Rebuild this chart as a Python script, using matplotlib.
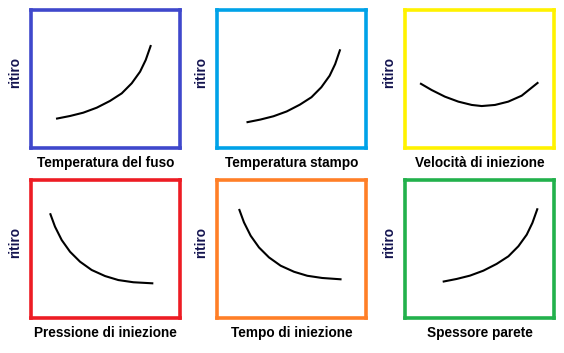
import matplotlib
matplotlib.use("Agg")
import matplotlib.pyplot as plt

plt.rcParams['font.family'] = ['Liberation Sans', 'DejaVu Sans']

titles = ["Temperatura del fuso", "Temperatura stampo", "Velocità di iniezione",
          "Pressione di iniezione", "Tempo di iniezione", "Spessore parete"]
ylabel = "ritiro"
frame_colors = ["#3f48cc", "#00a2e8", "#fff200", "#ed1c24", "#ff7f27", "#22b14c"]

curve_x = [
    [16.8, 26.2, 35.1, 44.1, 53.0, 60.9, 67.6, 73.2, 77.0, 80.5],
    [19.8, 29.1, 37.9, 46.8, 55.6, 63.4, 70.0, 75.6, 79.3, 82.7],
    [10.1, 17.9, 26.8, 35.8, 44.8, 51.5, 60.4, 69.3, 78.3, 89.5],
    [12.8, 16.1, 20.6, 26.2, 32.9, 40.7, 49.7, 58.6, 68.7, 82.1],
    [14.8, 18.1, 22.6, 28.2, 34.9, 42.7, 51.7, 60.6, 70.6, 83.6],
    [25.3, 34.7, 43.6, 52.6, 61.5, 69.4, 76.1, 81.7, 85.5, 89.0],
]
curve_y = [
    [21.2, 23.2, 25.6, 29.2, 34.1, 39.6, 46.9, 55.3, 63.8, 74.6],
    [18.6, 20.6, 23.0, 26.5, 31.4, 36.8, 44.0, 52.4, 60.8, 71.5],
    [46.9, 42.0, 37.2, 33.6, 31.2, 30.4, 31.2, 33.6, 37.9, 47.6],
    [75.9, 66.2, 56.5, 48.0, 40.8, 34.8, 30.4, 27.5, 25.9, 25.1],
    [79.0, 69.3, 59.6, 51.1, 43.9, 37.9, 33.5, 30.6, 29.0, 28.0],
    [26.3, 28.3, 30.7, 34.3, 39.2, 44.7, 52.0, 60.4, 68.9, 79.5],
]

W, H = 564, 353
fig = plt.figure(figsize=(W / 100, H / 100), dpi=100)
fig.patch.set_facecolor("white")

lefts = [31, 217, 405]
tops = [10, 180]
bw, bh = 149, 138

for i in range(6):
    r, c = divmod(i, 3)
    l = lefts[c]
    t = tops[r]
    ax = fig.add_axes([l / W, 1 - (t + bh) / H, bw / W, bh / H])
    ax.plot(curve_x[i], curve_y[i], color="black", lw=1.5,
            solid_capstyle="butt", solid_joinstyle="round")
    ax.set_xlim(0, 100)
    ax.set_ylim(0, 100)
    ax.set_xticks([])
    ax.set_yticks([])
    for s in ax.spines.values():
        s.set_color(frame_colors[i])
        s.set_linewidth(2.6)
    ax.text(0.5, -0.11, titles[i], transform=ax.transAxes, ha="center", va="center",
            fontsize=9.8, fontweight="bold", color="black")
    ax.text(-0.105, 0.55, ylabel, transform=ax.transAxes, ha="center", va="center",
            rotation=90, fontsize=9.8, fontweight="bold", color="#141450")

fig.savefig("out.png", dpi=100)
